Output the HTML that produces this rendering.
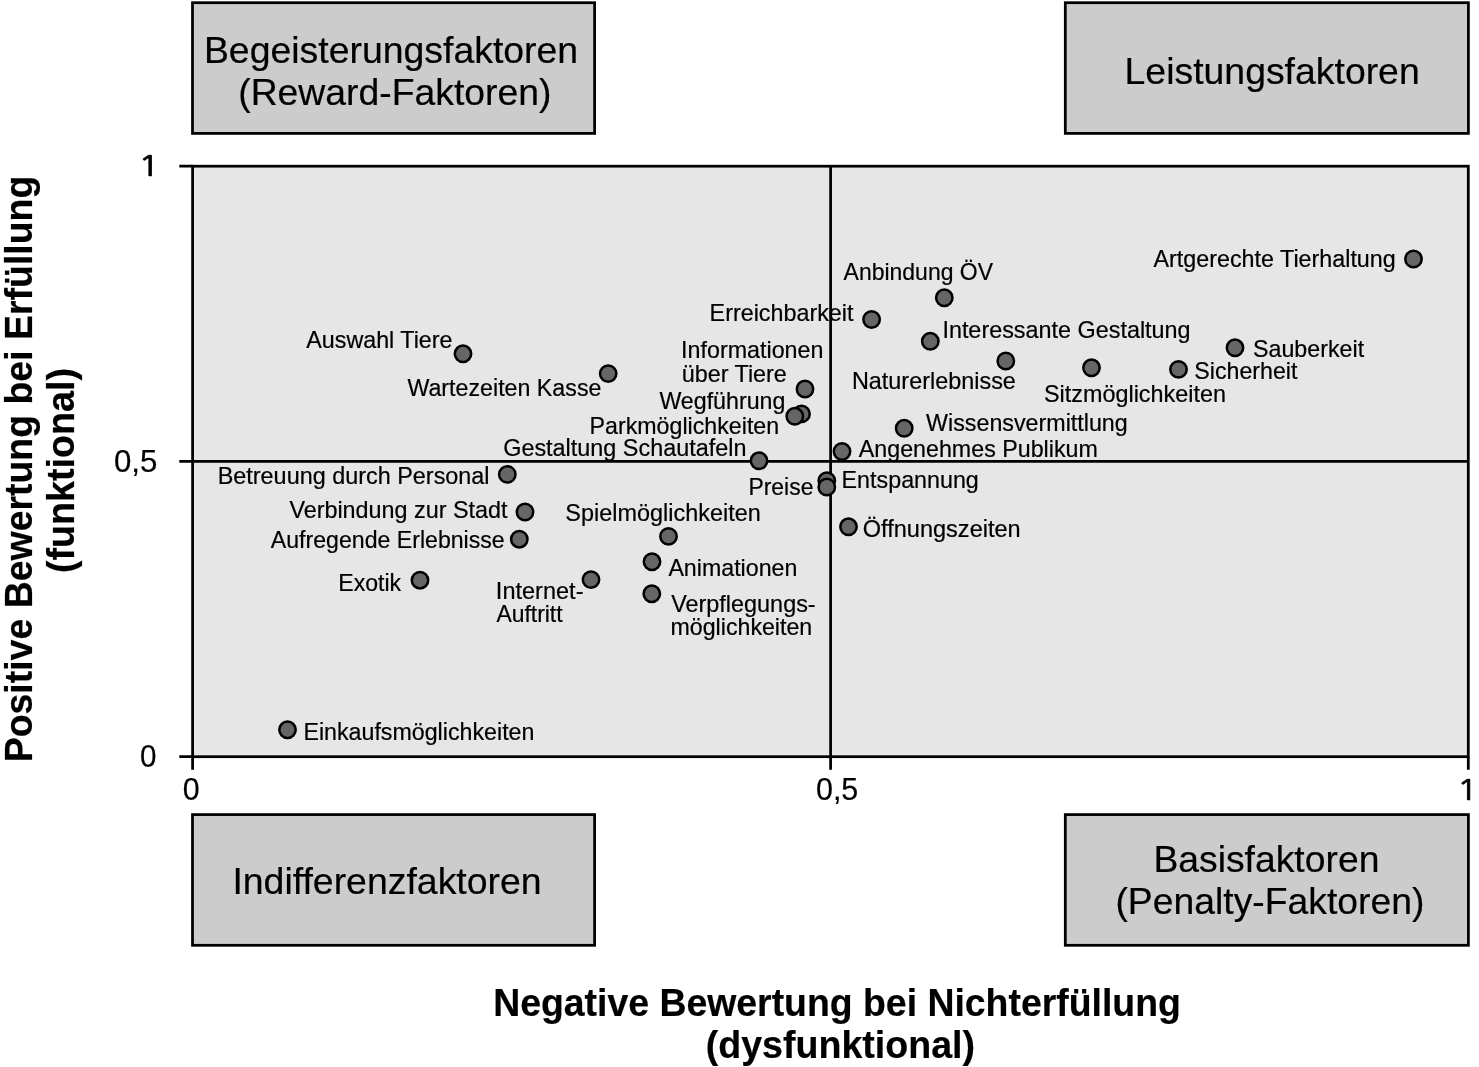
<!DOCTYPE html>
<html lang="de"><head><meta charset="utf-8"><title>Kano-Diagramm</title>
<style>
html,body{margin:0;padding:0;background:#fff}
svg{display:block}
text{font-family:"Liberation Sans",sans-serif;fill:#000;stroke:#000;stroke-width:0.2}
.l{font-size:23.2px}
.b{font-size:37.8px}
.t{font-size:30.8px}
.a{font-size:38.0px;font-weight:bold}
.o{font-family:NanumGothic,"Liberation Sans",sans-serif;font-size:27.9px;stroke-width:0.7}
.p{fill:#666;stroke:#000;stroke-width:2.5}
.bx{fill:#ccc;stroke:#000;stroke-width:2.75}
.ln{fill:none;stroke:#000;stroke-width:2.75}
</style></head><body>
<svg width="1479" height="1067" viewBox="0 0 1479 1067">
<rect width="1479" height="1067" fill="#fff"/>
<rect class="bx" x="192.5" y="2.7" width="402.1" height="130.7"/>
<rect class="bx" x="1065.3" y="2.7" width="403.1" height="130.7"/>
<rect class="bx" x="192.5" y="814.6" width="402.1" height="130.7"/>
<rect class="bx" x="1065.3" y="814.6" width="403.1" height="130.7"/>
<rect x="192.6" y="166.2" width="1275.7" height="590.5" fill="#e6e6e6" stroke="#000" stroke-width="2.75"/>
<path class="ln" d="M179.3 166.2H192.6M179.3 461.4H1468.3M179.3 756.7H192.6M192.6 756.7V769.8M830.6 166.2V769.8M1468.3 756.7V769.8"/>
<circle class="p" cx="1413.5" cy="259.0" r="8.2"/>
<circle class="p" cx="944.3" cy="297.8" r="8.2"/>
<circle class="p" cx="871.6" cy="319.5" r="8.2"/>
<circle class="p" cx="930.3" cy="341.3" r="8.2"/>
<circle class="p" cx="1235.0" cy="347.8" r="8.2"/>
<circle class="p" cx="463.0" cy="353.8" r="8.2"/>
<circle class="p" cx="1005.8" cy="361.0" r="8.2"/>
<circle class="p" cx="1091.5" cy="367.8" r="8.2"/>
<circle class="p" cx="1178.5" cy="369.4" r="8.2"/>
<circle class="p" cx="608.2" cy="373.6" r="8.2"/>
<circle class="p" cx="805.0" cy="389.0" r="8.2"/>
<circle class="p" cx="801.5" cy="413.9" r="8.2"/>
<circle class="p" cx="794.8" cy="416.3" r="8.2"/>
<circle class="p" cx="904.2" cy="428.3" r="8.2"/>
<circle class="p" cx="842.0" cy="451.5" r="8.2"/>
<circle class="p" cx="759.0" cy="460.8" r="8.2"/>
<circle class="p" cx="507.3" cy="474.4" r="8.2"/>
<circle class="p" cx="826.8" cy="480.6" r="8.2"/>
<circle class="p" cx="826.8" cy="487.0" r="8.2"/>
<circle class="p" cx="525.0" cy="512.0" r="8.2"/>
<circle class="p" cx="848.5" cy="526.8" r="8.2"/>
<circle class="p" cx="668.5" cy="536.4" r="8.2"/>
<circle class="p" cx="519.3" cy="539.2" r="8.2"/>
<circle class="p" cx="652.0" cy="561.8" r="8.2"/>
<circle class="p" cx="420.0" cy="580.2" r="8.2"/>
<circle class="p" cx="591.0" cy="579.6" r="8.2"/>
<circle class="p" cx="651.8" cy="593.8" r="8.2"/>
<circle class="p" cx="287.5" cy="729.8" r="8.2"/>
<text class="l" transform="translate(1153.50 266.70) scale(1.0047 1)">Artgerechte Tierhaltung</text>
<text class="l" transform="translate(843.60 280.20) scale(0.9905 1)">Anbindung ÖV</text>
<text class="l" transform="translate(709.59 321.30) scale(1.0059 1)">Erreichbarkeit</text>
<text class="l" transform="translate(942.38 338.00) scale(1.0085 1)">Interessante Gestaltung</text>
<text class="l" transform="translate(1253.00 356.80) scale(1.0021 1)">Sauberkeit</text>
<text class="l" transform="translate(306.30 348.10) scale(1.0039 1)">Auswahl Tiere</text>
<text class="l" transform="translate(851.88 389.30) scale(1.0102 1)">Naturerlebnisse</text>
<text class="l" transform="translate(1043.99 401.50) scale(1.0083 1)">Sitzmöglichkeiten</text>
<text class="l" transform="translate(1194.30 378.50) scale(0.9998 1)">Sicherheit</text>
<text class="l" transform="translate(407.40 396.30) scale(1.0013 1)">Wartezeiten Kasse</text>
<text class="l" transform="translate(681.09 358.20) scale(1.0039 1)">Informationen</text>
<text class="l" transform="translate(681.69 381.70) scale(1.0071 1)">über Tiere</text>
<text class="l" transform="translate(659.40 409.30) scale(1.0003 1)">Wegführung</text>
<text class="l" transform="translate(589.60 434.00) scale(1.0008 1)">Parkmöglichkeiten</text>
<text class="l" transform="translate(926.10 431.30) scale(1.0029 1)">Wissensvermittlung</text>
<text class="l" transform="translate(858.80 456.50) scale(1.0019 1)">Angenehmes Publikum</text>
<text class="l" transform="translate(503.19 455.50) scale(1.0089 1)">Gestaltung Schautafeln</text>
<text class="l" transform="translate(217.68 483.80) scale(1.0090 1)">Betreuung durch Personal</text>
<text class="l" transform="translate(841.59 487.70) scale(1.0042 1)">Entspannung</text>
<text class="l" transform="translate(748.42 495.30) scale(0.9895 1)">Preise</text>
<text class="l" transform="translate(289.40 518.00) scale(1.0072 1)">Verbindung zur Stadt</text>
<text class="l" transform="translate(862.78 536.80) scale(1.0154 1)">Öffnungszeiten</text>
<text class="l" transform="translate(565.29 520.50) scale(1.0108 1)">Spielmöglichkeiten</text>
<text class="l" transform="translate(270.80 547.80) scale(0.9969 1)">Aufregende Erlebnisse</text>
<text class="l" transform="translate(668.40 575.70) scale(1.0003 1)">Animationen</text>
<text class="l" transform="translate(338.31 590.50) scale(0.9955 1)">Exotik</text>
<text class="l" transform="translate(495.87 599.10) scale(1.0147 1)">Internet-</text>
<text class="l" transform="translate(496.40 621.90) scale(0.9881 1)">Auftritt</text>
<text class="l" transform="translate(671.20 611.50) scale(1.0096 1)">Verpflegungs-</text>
<text class="l" transform="translate(670.50 634.50) scale(0.9997 1)">möglichkeiten</text>
<text class="l" transform="translate(303.40 739.60) scale(1.0012 1)">Einkaufsmöglichkeiten</text>
<text class="b" transform="translate(203.88 63.00) scale(0.9899 1)">Begeisterungsfaktoren</text>
<text class="b" transform="translate(238.25 104.60) scale(0.9877 1)">(Reward-Faktoren)</text>
<text class="b" transform="translate(1124.58 83.80) scale(0.9890 1)">Leistungsfaktoren</text>
<text class="b" transform="translate(232.38 893.80) scale(0.9901 1)">Indifferenzfaktoren</text>
<text class="b" transform="translate(1153.38 872.40) scale(0.9873 1)">Basisfaktoren</text>
<text class="b" transform="translate(1115.45 914.10) scale(0.9871 1)">(Penalty-Faktoren)</text>
<text class="o" transform="translate(138.10 176.20) scale(1.2999 1)">1</text>
<text class="t" transform="translate(113.92 472.00) scale(1.0146 1)">0,5</text>
<text class="t" transform="translate(140.07 766.80) scale(0.9610 1)">0</text>
<text class="t" transform="translate(182.85 799.80) scale(0.9870 1)">0</text>
<text class="t" transform="translate(815.95 800.00) scale(0.9900 1)">0,5</text>
<text class="o" transform="translate(1456.82 800.00) scale(1.2693 1)">1</text>
<text class="a" transform="translate(493.16 1015.70) scale(0.9845 1)">Negative Bewertung bei Nichterfüllung</text>
<text class="a" transform="translate(705.74 1058.20) scale(0.9893 1)">(dysfunktional)</text>
<text class="a" transform="translate(32.00 762.34) rotate(-90) scale(0.9854 1)">Positive Bewertung bei Erfüllung</text>
<text class="a" transform="translate(74.00 572.97) rotate(-90) scale(0.9912 1)">(funktional)</text>
</svg></body></html>
